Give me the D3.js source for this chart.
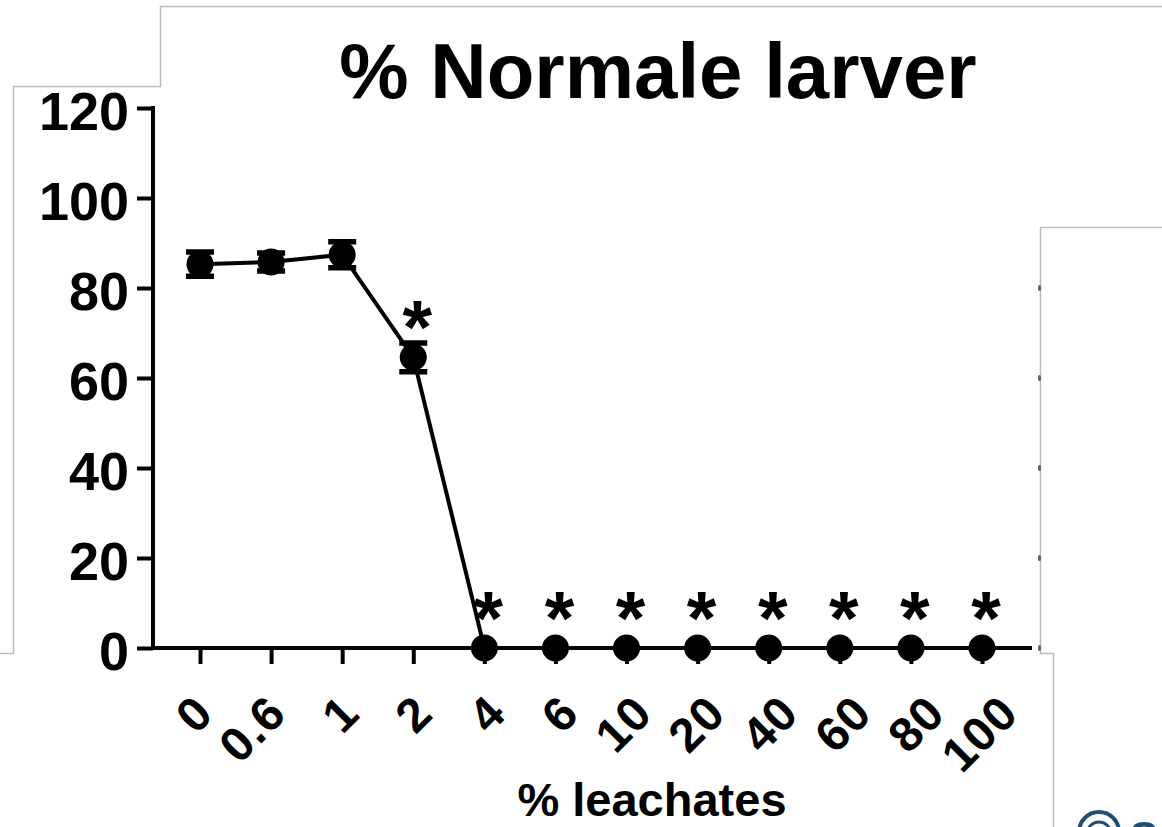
<!DOCTYPE html>
<html>
<head>
<meta charset="utf-8">
<script src="https://cdn.jsdelivr.net/npm/d3@7"></script>
<style>
  html, body { margin: 0; padding: 0; background: #fff; }
  svg { display: block; font-family: "Liberation Sans", Arial, sans-serif; }
</style>
</head>
<body>
<svg id="chart" width="1162" height="827"></svg>
<script>
// ---- data ----
const categories = ["0", "0.6", "1", "2", "4", "6", "10", "20", "40", "60", "80", "100"];
const values     = [85.3, 85.8, 87.4, 64.6, 0, 0, 0, 0, 0, 0, 0, 0];
const errors     = [2.7, 2.0, 2.9, 3.2, 0, 0, 0, 0, 0, 0, 0, 0];
const significant = [false, false, false, true, true, true, true, true, true, true, true, true];
const yTicks     = [0, 20, 40, 60, 80, 100, 120];
const title      = "% Normale larver";
const xTitle     = "% leachates";

const svg = d3.select("#chart");

// ---- scales ----
const y = d3.scaleLinear().domain([0, 120]).range([648, 108]);
const x = d3.scalePoint().domain(categories).range([200, 982]);
const xLab = d3.scalePoint().domain(categories).range([215, 1020]);

// ---- background panel borders (screenshot frames) ----
const grey = "#bcbcbc";
const frame = svg.append("g").attr("fill", "none").attr("stroke", grey).attr("stroke-width", 1.5);
frame.append("path").attr("d", "M1162,6.5 H160.5 V86.5 H13.5 V653.5 H0");
frame.append("path").attr("d", "M1162,227.5 H1040.5 V653.5 H1053.5 V827");
svg.append("g").selectAll("rect").data([80, 60, 40, 20, 0]).join("rect")
  .attr("x", 1038).attr("y", d => y(d) - 3).attr("width", 3).attr("height", 6)
  .attr("rx", 1.5).attr("fill", "#666");

// ---- title ----
svg.append("text").attr("x", 658).attr("y", 98).attr("text-anchor", "middle")
  .attr("font-size", 78).attr("font-weight", "bold").attr("fill", "#000").text(title);

// ---- y axis ----
const yAxis = svg.append("g").attr("transform", "translate(153,0)")
  .call(d3.axisLeft(y).tickValues(yTicks).tickSize(16).tickPadding(8).tickSizeOuter(0));
yAxis.select(".domain").remove();
yAxis.selectAll(".tick line").attr("stroke", "#000").attr("stroke-width", 4);
yAxis.selectAll(".tick text").attr("font-size", 54).attr("font-weight", "bold")
  .attr("font-family", "Liberation Sans, Arial, sans-serif").attr("fill", "#000").attr("dy", "0.40em");
svg.append("line").attr("x1", 153).attr("x2", 153).attr("y1", y(120) - 2).attr("y2", y(0) + 2)
  .attr("stroke", "#000").attr("stroke-width", 4);

// ---- x axis ----
const xAxis = svg.append("g").attr("transform", `translate(0,${y(0)})`)
  .call(d3.axisBottom(x).tickSize(16).tickSizeOuter(0));
xAxis.select(".domain").remove();
xAxis.selectAll(".tick line").attr("stroke", "#000").attr("stroke-width", 4);
xAxis.selectAll(".tick text")
  .attr("font-size", 48).attr("font-weight", "bold")
  .attr("font-family", "Liberation Sans, Arial, sans-serif").attr("fill", "#000")
  .attr("text-anchor", "end").attr("dy", null).attr("y", null)
  .attr("letter-spacing", 1)
  .attr("transform", d => `translate(${xLab(d) - x(d)},${716 - y(0)}) rotate(-45)`);
svg.append("line").attr("x1", 151).attr("x2", 1032).attr("y1", y(0)).attr("y2", y(0))
  .attr("stroke", "#000").attr("stroke-width", 4);

svg.append("text").attr("x", 652).attr("y", 816).attr("text-anchor", "middle")
  .attr("font-size", 47).attr("font-weight", "bold").attr("fill", "#000").text(xTitle);

// ---- series ----
const pts = categories.map((c, i) => ({ c, v: values[i], e: errors[i], s: significant[i] }));

svg.append("path").datum(pts)
  .attr("fill", "none").attr("stroke", "#000").attr("stroke-width", 4)
  .attr("d", d3.line().x(d => x(d.c)).y(d => y(d.v)));

// error bars
const eb = svg.append("g").attr("stroke", "#000").attr("stroke-width", 5.5).attr("fill", "none");
pts.filter(d => d.e > 0).forEach(d => {
  const cx = x(d.c), y1 = y(d.v + d.e), y2 = y(d.v - d.e);
  eb.append("path").attr("d", `M${cx},${y1} V${y2} M${cx - 14},${y1} H${cx + 14} M${cx - 14},${y2} H${cx + 14}`);
});

// markers
svg.append("g").selectAll("circle").data(pts).join("circle")
  .attr("cx", d => x(d.c)).attr("cy", d => y(d.v)).attr("r", 13.5).attr("fill", "#000");

// significance stars
svg.append("g").selectAll("text").data(pts.filter(d => d.s)).join("text")
  .attr("x", d => x(d.c) + 4).attr("y", d => y(d.v) - 53)
  .attr("text-anchor", "middle").attr("font-size", 76).attr("font-weight", "bold")
  .attr("fill", "#000").attr("dy", "0.64em").text("*");

// ---- partial logo (bottom right) ----
const logo = svg.append("g").attr("fill", "none").attr("stroke", "#1f4e79");
logo.append("circle").attr("cx", 1099).attr("cy", 832).attr("r", 20).attr("stroke-width", 4);
logo.append("circle").attr("cx", 1099).attr("cy", 834).attr("r", 12).attr("stroke-width", 3);
logo.append("circle").attr("cx", 1101).attr("cy", 836).attr("r", 5).attr("fill", "#1f4e79").attr("stroke", "none");
svg.append("text").attr("x", 1130).attr("y", 851).attr("font-size", 42).attr("font-weight", "bold")
  .attr("fill", "#1f4e79").text("S");
</script>
</body>
</html>
